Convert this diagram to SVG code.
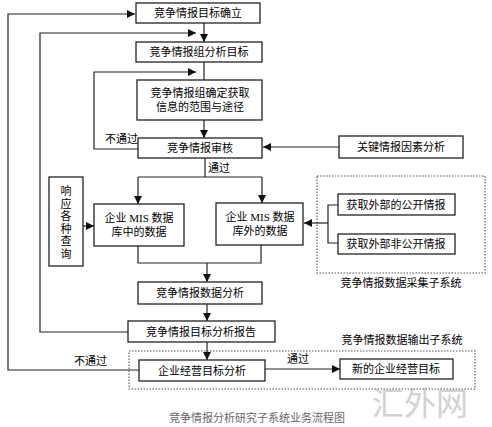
<svg xmlns="http://www.w3.org/2000/svg" width="492" height="427" viewBox="0 0 492 427">
<style>
.box{fill:#fff;stroke:#222;stroke-width:1.3}
.sub{fill:none;stroke:#555;stroke-width:1.1;stroke-dasharray:1.5 1.5}
.ln{fill:none;stroke:#222;stroke-width:1.2}
text{font-family:"Liberation Serif","Noto Sans CJK SC",serif;font-size:11px;fill:#000;text-anchor:middle;dominant-baseline:central}
.lbl{text-anchor:start}
.cap{fill:#666;font-size:11px}
.wm{fill:#d2d2d2;font-size:32px;font-family:"Noto Sans CJK SC",sans-serif}
</style>
<defs>
<marker id="ah" viewBox="0 0 10 10" refX="10" refY="5" markerWidth="8" markerHeight="8" markerUnits="userSpaceOnUse" orient="auto">
<path d="M0,0 L10,5 L0,10 z" fill="#111"/>
</marker>
</defs>
<rect width="492" height="427" fill="#fff"/>
<text class="wm" x="420" y="401">汇外网</text>

<g id="subsystems">
<rect class="sub" x="317" y="176" width="168" height="97"/>
<text x="401" y="283">竞争情报数据采集子系统</text>
<rect class="sub" x="129" y="351" width="346" height="38"/>
<text x="402" y="340">竞争情报数据输出子系统</text>
</g>

<g id="connectors">
<path class="ln" d="M139,370 H8 V14 H135" marker-end="url(#ah)"/>
<path class="ln" d="M128,332 H40 V33 H196" marker-end="url(#ah)"/>
<path class="ln" d="M204,23 V42" marker-end="url(#ah)"/>
<path class="ln" d="M204,62 V80"/>
<path class="ln" d="M138,149 H94 V72 H196" marker-end="url(#ah)"/>
<path class="ln" d="M204,120 V138" marker-end="url(#ah)"/>
<path class="ln" d="M339,147 H263" marker-end="url(#ah)"/>
<path class="ln" d="M205,158 V177 M138,177 H262"/>
<path class="ln" d="M138,177 V204" marker-end="url(#ah)"/>
<path class="ln" d="M262,177 V203" marker-end="url(#ah)"/>
<path class="ln" d="M83,226 H94" marker-end="url(#ah)"/>
<path class="ln" d="M138,246 V263 H261 V245"/>
<path class="ln" d="M207,263 V282" marker-end="url(#ah)"/>
<path class="ln" d="M338,205 H328 V243 H338"/>
<path class="ln" d="M328,223 H304" marker-end="url(#ah)"/>
<path class="ln" d="M207,304 V321" marker-end="url(#ah)"/>
<path class="ln" d="M207,342 V360" marker-end="url(#ah)"/>
<path class="ln" d="M265,369 H340" marker-end="url(#ah)"/>
<text class="lbl" x="105" y="139">不通过</text>
<text class="lbl" x="208" y="168">通过</text>
<text class="lbl" x="74" y="361">不通过</text>
<text class="lbl" x="287" y="359">通过</text>
</g>

<g id="n1"><rect class="box" x="136" y="3" width="124" height="20"/><text x="198" y="13">竞争情报目标确立</text></g>
<g id="n2"><rect class="box" x="136" y="42" width="126" height="20"/><text x="199" y="52">竞争情报组分析目标</text></g>
<g id="n3"><rect class="box" x="137" y="80" width="125" height="40"/><text x="200" y="93">竞争情报组确定获取</text><text x="200" y="107">信息的范围与途径</text></g>
<g id="n4"><rect class="box" x="138" y="138" width="124" height="20"/><text x="200" y="148">竞争情报审核</text></g>
<g id="n5"><rect class="box" x="339" y="136" width="124" height="22"/><text x="401" y="147">关键情报因素分析</text></g>
<g id="n6"><rect class="box" x="49" y="177" width="34" height="89"/>
<text x="66"><tspan x="66" y="191">响</tspan><tspan x="66" y="203.5">应</tspan><tspan x="66" y="216">各</tspan><tspan x="66" y="228.5">种</tspan><tspan x="66" y="241">查</tspan><tspan x="66" y="253.5">询</tspan></text></g>
<g id="n7"><rect class="box" x="94" y="204" width="90" height="42"/><text x="139" y="218">企业 MIS 数据</text><text x="139" y="232">库中的数据</text></g>
<g id="n8"><rect class="box" x="216" y="203" width="87" height="42"/><text x="260" y="217">企业 MIS 数据</text><text x="260" y="231">库外的数据</text></g>
<g id="n9"><rect class="box" x="338" y="194" width="117" height="21"/><text x="396" y="204.5">获取外部的公开情报</text></g>
<g id="n10"><rect class="box" x="338" y="234" width="117" height="20"/><text x="396" y="244">获取外部非公开情报</text></g>
<g id="n11"><rect class="box" x="138" y="282" width="124" height="22"/><text x="200" y="293">竞争情报数据分析</text></g>
<g id="n12"><rect class="box" x="128" y="321" width="147" height="21"/><text x="201" y="331.5">竞争情报目标分析报告</text></g>
<g id="n13"><rect class="box" x="139" y="360" width="126" height="21"/><text x="202" y="370.5">企业经营目标分析</text></g>
<g id="n14"><rect class="box" x="340" y="359" width="113" height="20"/><text x="396" y="369">新的企业经营目标</text></g>

<text class="cap" x="257" y="418">竞争情报分析研究子系统业务流程图</text>
</svg>
